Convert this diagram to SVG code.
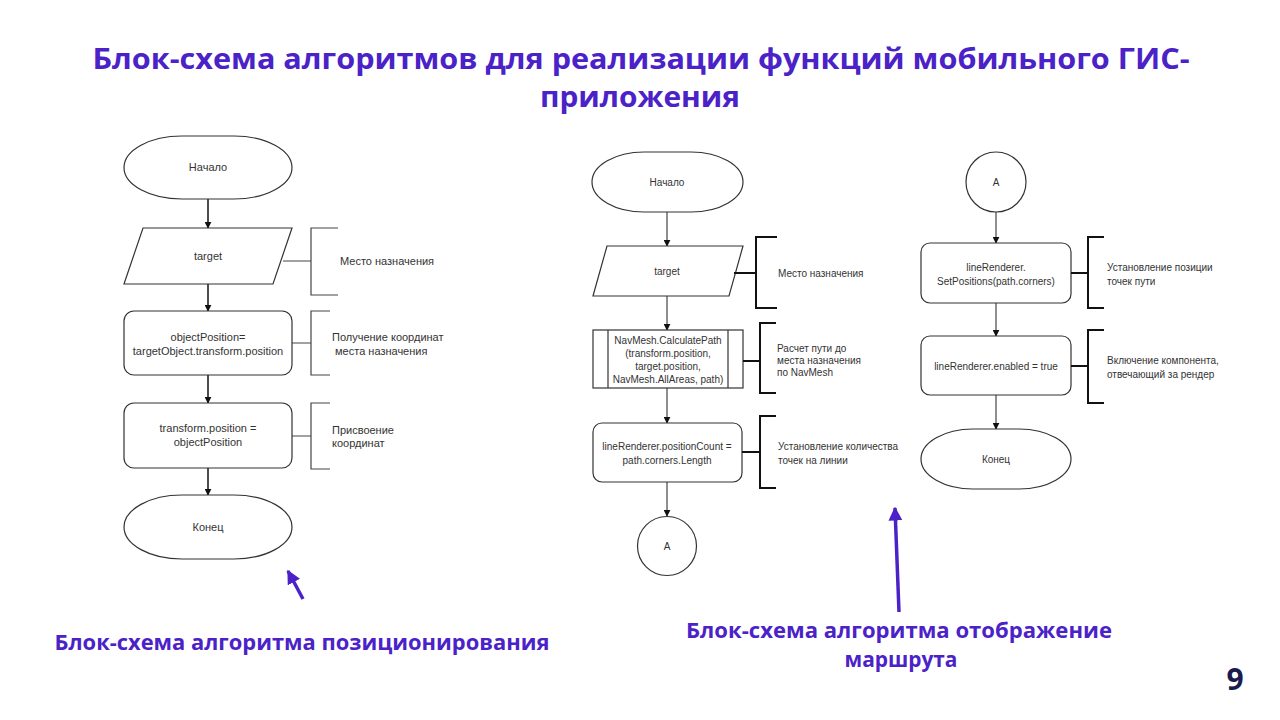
<svg xmlns="http://www.w3.org/2000/svg" width="1280" height="720" viewBox="0 0 1280 720">
<defs>
<marker id="ah" viewBox="0 0 10 10" refX="9" refY="5" markerWidth="7" markerHeight="7" markerUnits="userSpaceOnUse" orient="auto"><path d="M0,0 L10,5 L0,10 Z" fill="#111"/></marker>
<marker id="ahp" viewBox="0 0 10 10" refX="9" refY="5" markerWidth="14" markerHeight="14" markerUnits="userSpaceOnUse" orient="auto"><path d="M0,0 L10,5 L0,10 Z" fill="#4B22C8"/></marker>
<style>
.n{fill:#fff;stroke:#333;stroke-width:1.2}
.t{font-family:"Liberation Sans",Arial,sans-serif;font-size:11px;fill:#333;text-anchor:middle}
.ts{font-family:"Liberation Sans",Arial,sans-serif;font-size:10px;fill:#333;text-anchor:middle}
.c{font-family:"Liberation Sans",Arial,sans-serif;font-size:11px;fill:#333}
.cs{font-family:"Liberation Sans",Arial,sans-serif;font-size:10px;fill:#333}
.br{fill:none;stroke:#444;stroke-width:1.2}
.br2{fill:none;stroke:#111;stroke-width:2}
.e{fill:none;stroke:#111;stroke-width:1.5;marker-end:url(#ah)}
.e2{fill:none;stroke:#333;stroke-width:1.1;marker-end:url(#ah)}
.h{font-family:"Open Sans","Noto Sans",sans-serif;font-weight:700;fill:#4B22C8;text-anchor:middle}
.pa{fill:none;stroke:#4B22C8;stroke-width:3.5;marker-end:url(#ahp)}
</style>
</defs>
<rect width="1280" height="720" fill="#fff"/>
<g id="title">
<text class="h" x="641" y="69" font-size="29" textLength="1097" lengthAdjust="spacingAndGlyphs">Блок-схема алгоритмов для реализации функций мобильного ГИС-</text>
<text class="h" x="640" y="107" font-size="29" textLength="200" lengthAdjust="spacingAndGlyphs">приложения</text>
</g>
<g id="connectors">
<line class="e" x1="208" y1="199" x2="208" y2="228"/>
<line class="e" x1="208" y1="284" x2="208" y2="311"/>
<line class="e" x1="208" y1="375" x2="208" y2="403"/>
<line class="e" x1="208" y1="468" x2="208" y2="495"/>
<line class="e2" x1="667" y1="212" x2="667" y2="246"/>
<line class="e2" x1="667" y1="296" x2="667" y2="330"/>
<line class="e2" x1="667" y1="388" x2="667" y2="423"/>
<line class="e2" x1="667" y1="482" x2="667" y2="516"/>
<line class="e2" x1="996" y1="212" x2="996" y2="243"/>
<line class="e2" x1="996" y1="303" x2="996" y2="336"/>
<line class="e2" x1="996" y1="395" x2="996" y2="429"/>
<line class="pa" x1="303" y1="599" x2="288" y2="571"/>
<line class="pa" x1="899" y1="612" x2="895" y2="508"/>
</g>
<g id="l-start"><rect class="n" x="124" y="136" width="168" height="63" rx="58" ry="31.5"/><text class="t" x="208" y="171">Начало</text></g>
<g id="l-target"><polygon class="n" points="143,228 292,228 273,284 124,284"/><text class="t" x="208" y="260">target</text></g>
<g id="l-target-note"><path class="br" d="M283,261 H311 M338,228 H311 V295 H338"/><text class="c" x="340" y="265">Место назначения</text></g>
<g id="l-objpos"><rect class="n" x="124" y="311" width="168" height="64" rx="10"/><text class="t" x="208" y="341">objectPosition=</text><text class="t" x="208" y="355">targetObject.transform.position</text></g>
<g id="l-objpos-note"><path class="br" d="M292,343 H311 M330,311 H311 V375 H330"/><text class="c" x="332" y="341">Получение координат</text><text class="c" x="332" y="355" xml:space="preserve"> места назначения</text></g>
<g id="l-assign"><rect class="n" x="124" y="403" width="168" height="65" rx="10"/><text class="t" x="208" y="432">transform.position =</text><text class="t" x="208" y="446">objectPosition</text></g>
<g id="l-assign-note"><path class="br" d="M292,436 H311 M330,403 H311 V469 H330"/><text class="c" x="332" y="434">Присвоение</text><text class="c" x="332" y="447">координат</text></g>
<g id="l-end"><rect class="n" x="124" y="495" width="168" height="64" rx="58" ry="32"/><text class="t" x="208" y="531">Конец</text></g>

<g id="r-start"><rect class="n" x="592" y="152" width="151" height="60" rx="52" ry="30"/><text class="ts" x="667" y="186">Начало</text></g>
<g id="r-target"><polygon class="n" points="607,246 743,246 729,296 593,296"/><text class="ts" x="667" y="275">target</text></g>
<g id="r-target-note"><path class="br2" d="M734,273 H756 M777,237 H756 V308 H777"/><text class="cs" x="778" y="277">Место назначения</text></g>
<g id="r-calc"><rect class="n" x="593" y="330" width="150" height="58"/><line class="n" x1="608" y1="330" x2="608" y2="388"/><line class="n" x1="728" y1="330" x2="728" y2="388"/><text class="ts" x="668" y="344">NavMesh.CalculatePath</text><text class="ts" x="668" y="357">(transform.position,</text><text class="ts" x="668" y="370">target.position,</text><text class="ts" x="668" y="383">NavMesh.AllAreas, path)</text></g>
<g id="r-calc-note"><path class="br2" d="M743,361 H760 M776,323 H760 V393 H776"/><text class="cs" x="777" y="352">Расчет пути до</text><text class="cs" x="777" y="364">места назначения</text><text class="cs" x="777" y="376">по NavMesh</text></g>
<g id="r-count"><rect class="n" x="593" y="423" width="149" height="59" rx="9"/><text class="ts" x="667" y="450">lineRenderer.positionCount =</text><text class="ts" x="667" y="464">path.corners.Length</text></g>
<g id="r-count-note"><path class="br2" d="M742,452 H760 M776,416 H760 V488 H776"/><text class="cs" x="778" y="450">Установление количества</text><text class="cs" x="778" y="464">точек на линии</text></g>
<g id="r-a1"><circle class="n" cx="667" cy="546" r="29.5"/><text class="ts" x="667" y="550">A</text></g>

<g id="r-a2"><circle class="n" cx="996" cy="182" r="30"/><text class="ts" x="996" y="186">A</text></g>
<g id="r-setpos"><rect class="n" x="921" y="243" width="150" height="60" rx="9"/><text class="ts" x="996" y="271">lineRenderer.</text><text class="ts" x="996" y="285">SetPositions(path.corners)</text></g>
<g id="r-setpos-note"><path class="br2" d="M1071,273 H1088 M1104,237 H1088 V308 H1104"/><text class="cs" x="1107" y="271">Установление позиции</text><text class="cs" x="1107" y="285">точек пути</text></g>
<g id="r-enabled"><rect class="n" x="921" y="336" width="150" height="59" rx="9"/><text class="ts" x="996" y="370">lineRenderer.enabled = true</text></g>
<g id="r-enabled-note"><path class="br2" d="M1071,366 H1088 M1104,330 H1088 V403 H1104"/><text class="cs" x="1107" y="364">Включение компонента,</text><text class="cs" x="1107" y="378">отвечающий за рендер</text></g>
<g id="r-end"><rect class="n" x="921" y="429" width="150" height="60" rx="52" ry="30"/><text class="ts" x="996" y="463">Конец</text></g>

<g id="captions">
<text class="h" x="302" y="650" font-size="22" textLength="495" lengthAdjust="spacingAndGlyphs">Блок-схема алгоритма позиционирования</text>
<text class="h" x="899" y="638" font-size="22" textLength="426" lengthAdjust="spacingAndGlyphs">Блок-схема алгоритма отображение</text>
<text class="h" x="901" y="667" font-size="22" textLength="113" lengthAdjust="spacingAndGlyphs">маршрута</text>
<text x="1235" y="690" font-family="Open Sans,Noto Sans,sans-serif" font-weight="700" font-size="30" fill="#1B1B50" text-anchor="middle">9</text>
</g>
</svg>
